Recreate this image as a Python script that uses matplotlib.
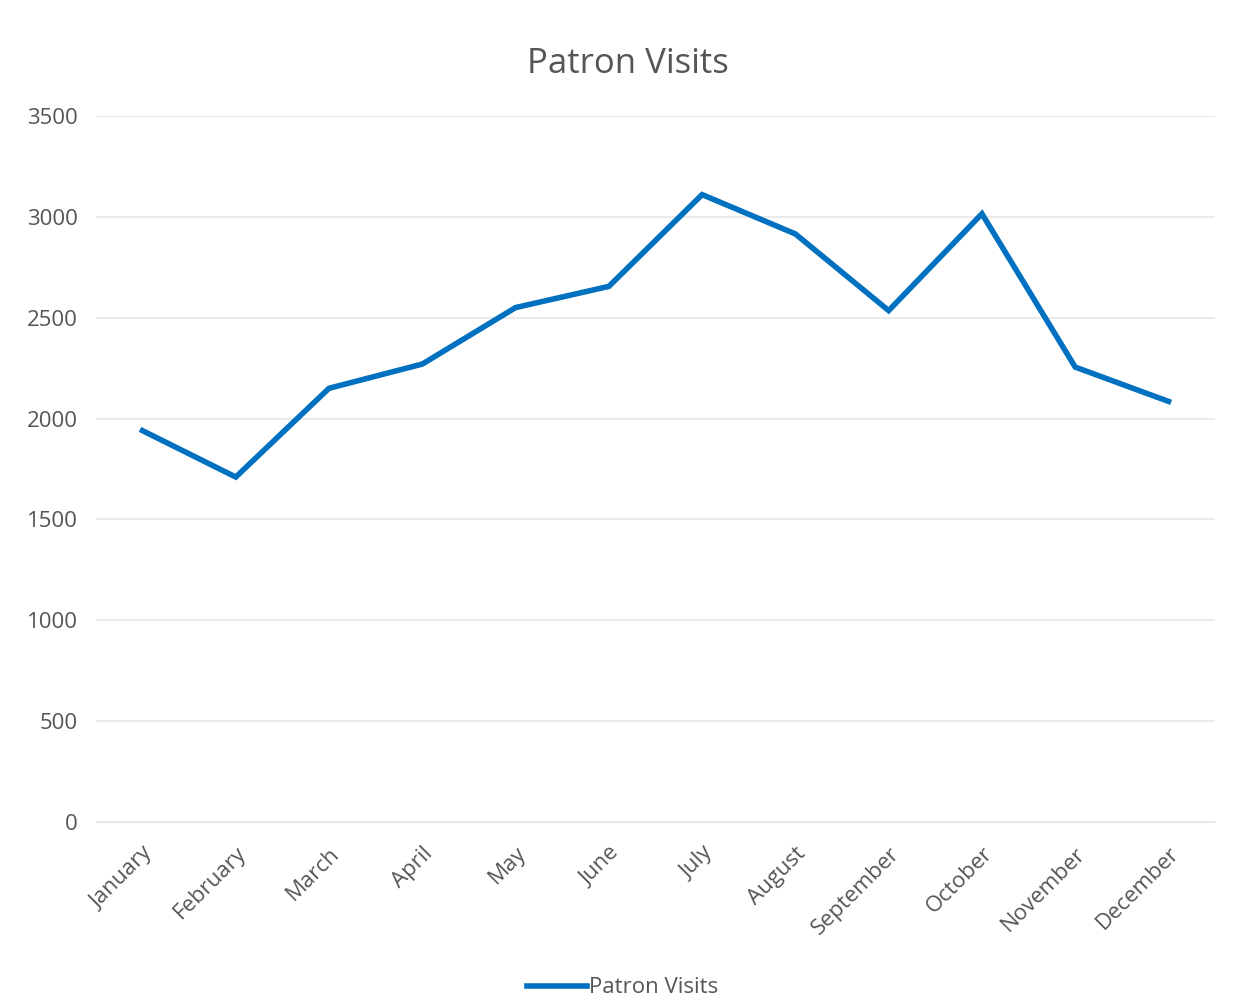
import matplotlib
matplotlib.use("Agg")
import matplotlib.pyplot as plt
import numpy as np

plt.rcParams['font.family'] = ['Open Sans', 'DejaVu Sans']

# Data
months = ["January", "February", "March", "April", "May", "June",
          "July", "August", "September", "October", "November", "December"]
visits = [1940, 1710, 2150, 2270, 2550, 2655, 3110, 2915, 2535, 3015, 2255, 2085]
yticks = [0, 500, 1000, 1500, 2000, 2500, 3000, 3500]

text_color = "#555555"
line_color = "#0070C0"

fig = plt.figure(figsize=(12.45, 10.08), dpi=100)
ax = fig.add_axes([0.077, 0.1845, 0.899, 0.7005])

x = np.arange(len(months))
ax.plot(x, visits, color=line_color, linewidth=4, solid_joinstyle="miter",
        label="Patron Visits")

ax.set_xlim(-0.5, len(months) - 0.5)
ax.set_ylim(0, 3500)
ax.set_yticks(yticks)
ax.set_yticklabels([str(v) for v in yticks], fontsize=16, color=text_color)
ax.set_xticks(x)
ax.set_xticklabels(months, rotation=45, ha="right", rotation_mode="anchor",
                   fontsize=16, color=text_color)
ax.tick_params(axis="y", length=0, pad=13)
ax.tick_params(axis="x", length=0, pad=15)

ax.grid(axis="y", color="#e6e6e6", linewidth=1.2)
ax.set_axisbelow(True)
for s in ax.spines.values():
    s.set_visible(False)
ax.spines["bottom"].set_visible(True)
ax.spines["bottom"].set_color("#e6e6e6")

fig.text(0.504, 0.937, "Patron Visits", ha="center", va="center",
         fontsize=25, color=text_color)

fig.legend(loc="center", bbox_to_anchor=(0.5, 0.02), frameon=False,
           fontsize=16, labelcolor=text_color, handlelength=2.7,
           handletextpad=0.1)

fig.savefig("out.png", dpi=100)
